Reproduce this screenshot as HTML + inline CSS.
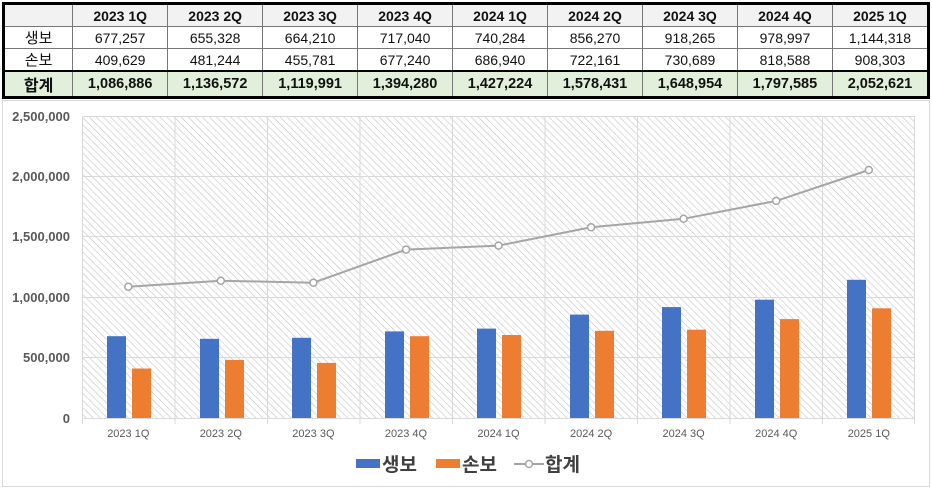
<!DOCTYPE html>
<html><head><meta charset="utf-8"><style>
body{margin:0;width:932px;height:489px;background:#fff;overflow:hidden;font-family:"Liberation Sans","Noto Sans CJK KR",sans-serif}
table{position:absolute;left:2px;top:2px;border-collapse:collapse;border:3px solid #000;width:928px}
td{border:1px solid #777;height:21px;padding:0;text-align:center;font-size:14px;color:#111;width:95px}
td:first-child{width:69px;font-size:15px}
tr.h td{background:#f2f2f2;font-weight:bold}
tr.s td{background:#e2efda;font-weight:bold;border-top:2px solid #000;font-size:14.5px}
tr.s td:first-child{font-size:16px}
</style></head><body>
<table>
<tr class="h"><td></td><td>2023 1Q</td><td>2023 2Q</td><td>2023 3Q</td><td>2023 4Q</td><td>2024 1Q</td><td>2024 2Q</td><td>2024 3Q</td><td>2024 4Q</td><td>2025 1Q</td></tr>
<tr><td>생보</td><td>677,257</td><td>655,328</td><td>664,210</td><td>717,040</td><td>740,284</td><td>856,270</td><td>918,265</td><td>978,997</td><td>1,144,318</td></tr>
<tr><td>손보</td><td>409,629</td><td>481,244</td><td>455,781</td><td>677,240</td><td>686,940</td><td>722,161</td><td>730,689</td><td>818,588</td><td>908,303</td></tr>
<tr class="s"><td>합계</td><td>1,086,886</td><td>1,136,572</td><td>1,119,991</td><td>1,394,280</td><td>1,427,224</td><td>1,578,431</td><td>1,648,954</td><td>1,797,585</td><td>2,052,621</td></tr>
</table>
<svg style="position:absolute;left:0;top:0" width="932" height="489" font-family="Liberation Sans, Noto Sans CJK KR, sans-serif">
<defs><pattern id="hp" width="5" height="5" patternUnits="userSpaceOnUse" patternTransform="rotate(-45)"><rect width="5" height="5" fill="#fff"/><line x1="0" y1="0" x2="0" y2="5" stroke="#c8c8c8" stroke-width="1.3"/></pattern></defs>
<rect x="2.5" y="100.5" width="927" height="386" fill="#fff" stroke="#d9d9d9"/>
<rect x="82" y="116" width="833" height="302" fill="url(#hp)"/>
<g stroke="#d9d9d9" stroke-width="1">
<line x1="82" x2="915" y1="116.5" y2="116.5"/><line x1="82" x2="915" y1="176.5" y2="176.5"/><line x1="82" x2="915" y1="236.5" y2="236.5"/><line x1="82" x2="915" y1="297.5" y2="297.5"/><line x1="82" x2="915" y1="357.5" y2="357.5"/><line x1="82" x2="915" y1="418.5" y2="418.5"/>
<line x1="82.5" x2="82.5" y1="116" y2="424"/><line x1="175" x2="175" y1="116" y2="424"/><line x1="267.5" x2="267.5" y1="116" y2="424"/><line x1="360" x2="360" y1="116" y2="424"/><line x1="452.5" x2="452.5" y1="116" y2="424"/><line x1="545" x2="545" y1="116" y2="424"/><line x1="637.5" x2="637.5" y1="116" y2="424"/><line x1="730" x2="730" y1="116" y2="424"/><line x1="822.5" x2="822.5" y1="116" y2="424"/><line x1="914.5" x2="914.5" y1="116" y2="424"/>
</g>
<g font-size="13" font-weight="bold" fill="#595959" text-anchor="end">
<text x="70" y="121">2,500,000</text><text x="70" y="181">2,000,000</text><text x="70" y="241">1,500,000</text><text x="70" y="302">1,000,000</text><text x="70" y="362">500,000</text><text x="70" y="423">0</text>
</g>
<g fill="#4472c4">
<rect x="107" y="336.2" width="19" height="81.8"/><rect x="200" y="338.8" width="19" height="79.2"/><rect x="292" y="337.8" width="19" height="80.2"/><rect x="385" y="331.4" width="19" height="86.6"/><rect x="477" y="328.6" width="19" height="89.4"/><rect x="570" y="314.6" width="19" height="103.4"/><rect x="662" y="307.1" width="19" height="110.9"/><rect x="755" y="299.7" width="19" height="118.3"/><rect x="847" y="279.8" width="19" height="138.2"/>
</g>
<g fill="#ed7d31">
<rect x="132" y="368.5" width="19" height="49.5"/><rect x="225" y="359.9" width="19" height="58.1"/><rect x="317" y="362.9" width="19" height="55.1"/><rect x="410" y="336.2" width="19" height="81.8"/><rect x="502" y="335" width="19" height="83"/><rect x="595" y="330.8" width="19" height="87.2"/><rect x="687" y="329.7" width="19" height="88.3"/><rect x="780" y="319.1" width="19" height="98.9"/><rect x="872" y="308.3" width="19" height="109.7"/>
</g>
<polyline fill="none" stroke="#a5a5a5" stroke-width="2" points="128.3,286.7 220.8,280.7 313.4,282.7 406,249.6 498.5,245.6 591.1,227.3 683.6,218.8 776.2,200.9 868.8,170"/>
<g fill="#fff" stroke="#a5a5a5" stroke-width="1.5">
<circle cx="128.3" cy="286.7" r="3.5"/><circle cx="220.8" cy="280.7" r="3.5"/><circle cx="313.4" cy="282.7" r="3.5"/><circle cx="406" cy="249.6" r="3.5"/><circle cx="498.5" cy="245.6" r="3.5"/><circle cx="591.1" cy="227.3" r="3.5"/><circle cx="683.6" cy="218.8" r="3.5"/><circle cx="776.2" cy="200.9" r="3.5"/><circle cx="868.8" cy="170" r="3.5"/>
</g>
<g font-size="11" fill="#595959" text-anchor="middle">
<text x="128.3" y="437">2023 1Q</text><text x="220.8" y="437">2023 2Q</text><text x="313.4" y="437">2023 3Q</text><text x="406" y="437">2023 4Q</text><text x="498.5" y="437">2024 1Q</text><text x="591.1" y="437">2024 2Q</text><text x="683.6" y="437">2024 3Q</text><text x="776.2" y="437">2024 4Q</text><text x="868.8" y="437">2025 1Q</text>
</g>
<rect x="356" y="459" width="24" height="9" fill="#4472c4"/>
<text x="382" y="471" font-size="19" font-weight="bold" fill="#404040">생보</text>
<rect x="436" y="459" width="24" height="9" fill="#ed7d31"/>
<text x="462" y="471" font-size="19" font-weight="bold" fill="#404040">손보</text>
<line x1="514" x2="544" y1="464" y2="464" stroke="#a5a5a5" stroke-width="2"/>
<circle cx="529" cy="464" r="3.5" fill="#fff" stroke="#a5a5a5" stroke-width="1.5"/>
<text x="545" y="471" font-size="19" font-weight="bold" fill="#404040">합계</text>
</svg>
</body></html>
